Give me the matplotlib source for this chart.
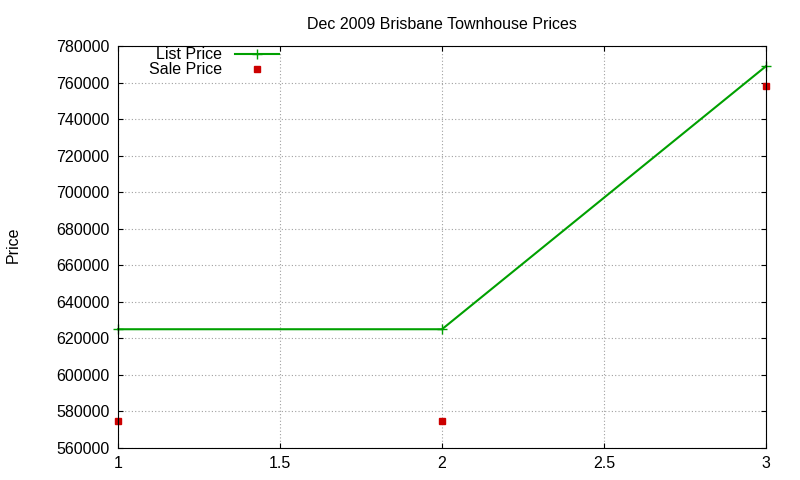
import matplotlib
matplotlib.use("Agg")
import matplotlib.pyplot as plt

plt.rcParams['font.family'] = ['Liberation Sans', 'DejaVu Sans']

x = [1, 2, 3]
list_price = [625000, 625000, 769000]
sale_price = [575000, 575000, 758000]
title = "Dec 2009 Brisbane Townhouse Prices"

fig = plt.figure(figsize=(8, 4.8), dpi=100)
ax = fig.add_axes([0.1475, 0.0667, 0.81, 0.8373])
ax.plot(x, list_price, color="#00a000", marker="+", markersize=7, linewidth=1.5, label="List Price", clip_on=False)
ax.plot(x, sale_price, color="#cc0000", marker="s", markersize=5, linestyle="none", label="Sale Price", clip_on=False)
ax.set_xlim(1, 3)
ax.set_ylim(560000, 780000)
ax.set_xticks([1, 1.5, 2, 2.5, 3])
ax.set_xticklabels(["1", "1.5", "2", "2.5", "3"])
ax.set_yticks(range(560000, 780001, 20000))
ax.grid(True, color="#a0a0a0", linestyle=(0, (1, 2)), linewidth=0.8)
ax.tick_params(direction="in", labelsize=11.5, top=True, right=True, pad=6)
fig.text(0.016, 0.49, "Price", rotation=90, fontsize=11.5, va="center", ha="center")
ax.set_title(title, fontsize=11.5, pad=12)
ax.legend(loc="upper left", markerfirst=False, frameon=False, fontsize=11.5,
          bbox_to_anchor=(0.03, 1.025), handlelength=2.8, borderaxespad=0.3, labelspacing=0.0)
for s in ax.spines.values():
    s.set_linewidth(0.8)
fig.savefig("out.png", dpi=100)
